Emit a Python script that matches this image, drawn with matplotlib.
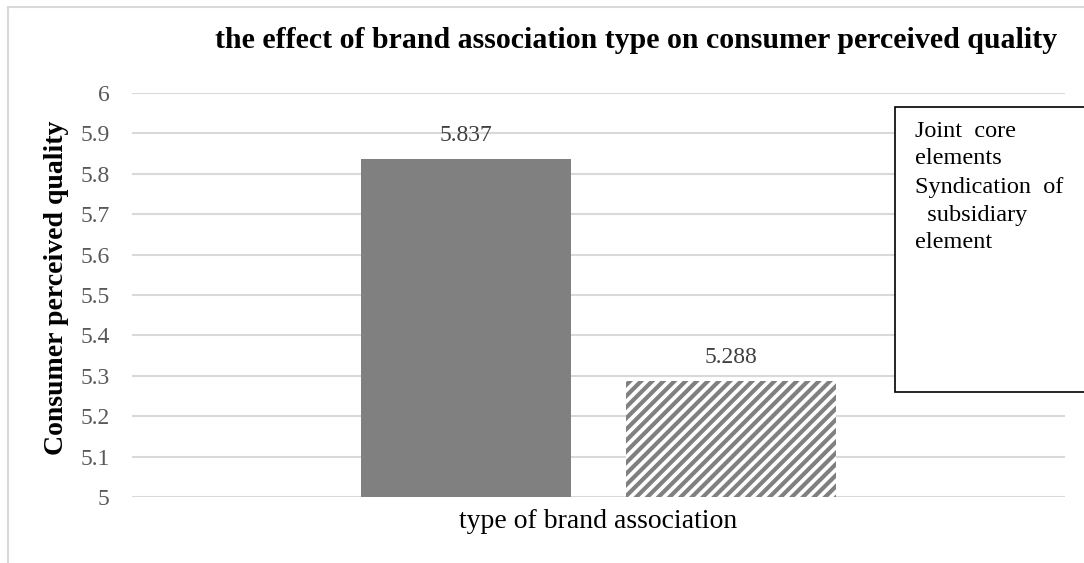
import matplotlib
matplotlib.use("Agg")
import matplotlib.pyplot as plt
from matplotlib.patches import Rectangle

# ---- data ----
category = ["type of brand association"]
series_names = ["Joint  core\nelements", "Syndication  of\n  subsidiary\nelement"]
values = [5.837, 5.288]
y_ticks = [5, 5.1, 5.2, 5.3, 5.4, 5.5, 5.6, 5.7, 5.8, 5.9, 6]
y_tick_labels = ["5", "5.1", "5.2", "5.3", "5.4", "5.5", "5.6", "5.7", "5.8", "5.9", "6"]

plt.rcParams['font.family'] = ['Liberation Serif', 'DejaVu Serif']
plt.rcParams['hatch.linewidth'] = 3.0
plt.rcParams['hatch.color'] = '#808080'

W, H = 1084, 563
fig = plt.figure(figsize=(W / 100, H / 100), dpi=100)
ax = fig.add_axes([132 / W, 1 - 497 / H, (1065 - 132) / W, (497 - 93) / H])

offsets = [-0.142, 0.142]
width = 0.225
styles = [dict(color='#808080'), dict(facecolor='white', edgecolor='#808080', hatch='///', linewidth=0)]
for off, v, name, st in zip(offsets, values, series_names, styles):
    ax.bar(off, v - 5, bottom=5, width=width, label=name, **st)
    ax.annotate(f"{v:.3f}", xy=(off, v), xytext=(0, 9), textcoords='offset points',
                ha='center', va='bottom', fontsize=17, color='#404040')

ax.set_xlim(-0.5, 0.5)
ax.set_ylim(5, 6)
ax.set_yticks(y_ticks)
ax.set_yticklabels(y_tick_labels, fontsize=17, color='#595959')
ax.tick_params(axis='y', length=0, pad=16)
ax.set_xticks([])
ax.yaxis.grid(True, color='#d9d9d9', linewidth=1.5)
ax.set_axisbelow(True)
for s in ax.spines.values():
    s.set_visible(False)

fig.text(598 / W, 1 - 521 / H, category[0], ha='center', va='center', fontsize=20, color='black')
fig.text(57 / W, 1 - 288 / H, "Consumer perceived quality", rotation=90, ha='center', va='center',
         fontsize=20, fontweight='bold')
fig.text(636 / W, 1 - 40 / H, "the effect of brand association type on consumer perceived quality",
         ha='center', va='center', fontsize=21.5, fontweight='bold')

# outer chart frame
fig.patches.append(Rectangle((8 / W, -0.05), 1.2, 1 - 7 / H + 0.05, transform=fig.transFigure,
                             facecolor='none', edgecolor='#d9d9d9', linewidth=1.5))
# legend box
fig.patches.append(Rectangle((895 / W, 1 - 392 / H), 0.3, (392 - 107) / H, transform=fig.transFigure,
                             facecolor='white', edgecolor='black', linewidth=1.2, zorder=5))
fig.text(915 / W, 1 - 121 / H, series_names[0], ha='left', va='top', fontsize=17.5,
         linespacing=1.4, zorder=6)
fig.text(915 / W, 1 - 177.5 / H, series_names[1], ha='left', va='top', fontsize=17.5,
         linespacing=1.4, zorder=6)

fig.savefig("out.png", dpi=100)
